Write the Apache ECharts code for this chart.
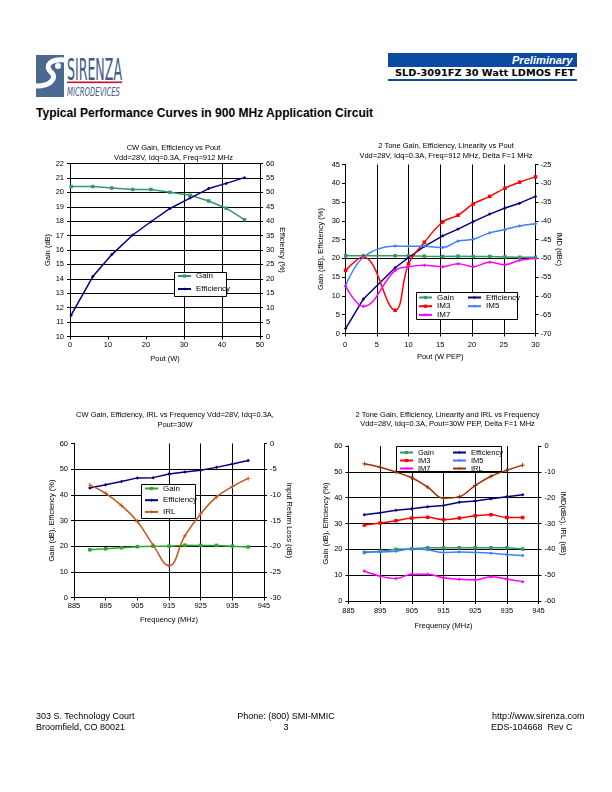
<!DOCTYPE html>
<html>
<head>
<meta charset="utf-8">
<script src="https://cdn.jsdelivr.net/npm/echarts@6/dist/echarts.min.js"></script>
<style>
  body { margin: 0; background: #fff; font-family: "Liberation Sans", Arial, sans-serif; }
  #page { position: relative; width: 612px; height: 792px; overflow: hidden; background: #fff; }
  .chart { position: absolute; left: 0; top: 0; width: 612px; height: 792px; }
  .t { position: absolute; white-space: nowrap; color: #000; line-height: 1; }
</style>
</head>
<body>
<div id="page">
  <svg style="position:absolute;left:0;top:0" width="612" height="110">
    <rect x="36" y="55" width="28" height="42" fill="#4a6890"/>
    <path d="M66 60 C50 58 44 66 51 72 C58 78 50 87 34 86" stroke="#fff" stroke-width="5" fill="none"/>
    <circle cx="58" cy="66" r="3" fill="#fff"/>
    <text x="67" y="80" font-family="'Liberation Sans Narrow','DejaVu Sans Condensed',sans-serif" font-size="31" textLength="55" lengthAdjust="spacingAndGlyphs" fill="#3f5b86">SIRENZA</text>
    <rect x="67" y="81.5" width="55" height="1.6" fill="#c8102e"/>
    <text x="67" y="96" font-family="'Liberation Sans Narrow','DejaVu Sans Condensed',sans-serif" font-style="italic" font-size="13" textLength="53" lengthAdjust="spacingAndGlyphs" fill="#3f5b86">MICRODEVICES</text>
    <rect x="388" y="53" width="189" height="14" fill="#0d4aa2"/>
    <rect x="388" y="79" width="189" height="2" fill="#0d4aa2"/>
  </svg>
  <div class="t fit" data-w="60" data-r="1" style="right:40px;top:55.5px;font-size:10px;font-weight:bold;font-style:italic;color:#fff">Preliminary</div>
  <div class="t fit" data-w="179" data-r="1" style="right:38px;top:69px;font-size:9px;font-weight:bold;font-family:'DejaVu Sans',sans-serif">SLD-3091FZ 30 Watt LDMOS FET</div>
  <div class="t fit" data-w="337" style="left:36px;top:106px;font-size:13px;font-weight:bold">Typical Performance Curves in 900 MHz Application Circuit</div>

  <div id="c1" class="chart"></div>
  <div id="c2" class="chart"></div>
  <div id="c3" class="chart"></div>
  <div id="c4" class="chart"></div>

  <div class="t" style="left:36px;top:712px;font-size:9px">303 S. Technology Court</div>
  <div class="t" style="left:36px;top:723px;font-size:9px">Broomfield, CO 80021</div>
  <div class="t" style="left:186px;width:200px;text-align:center;top:712px;font-size:9px">Phone: (800) SMI-MMIC</div>
  <div class="t" style="left:186px;width:200px;text-align:center;top:723px;font-size:9px">3</div>
  <div class="t" style="left:492px;top:712px;font-size:9px">http://www.sirenza.com</div>
  <div class="t" style="left:491px;top:723px;font-size:9px">EDS-104668&nbsp; Rev C</div>
</div>

<script>
// ---- CW gain / efficiency vs Pout (Freq 912 MHz)
const cwPout = [0.3, 6, 11, 16.5, 21.3, 26.3, 31.6, 36.5, 41.1, 45.9];
const cwGain = [20.4, 20.4, 20.3, 20.2, 20.2, 20.0, 19.8, 19.4, 18.9, 18.1];
const cwEff  = [7.4, 20.8, 28.4, 35.2, 39.8, 44.4, 48.0, 51.3, 53.1, 55.1];

// ---- 2 tone vs Pout (W PEP)
const ttPout = [0.1, 2.9, 7.9, 10, 12.5, 15.4, 17.8, 20.2, 22.8, 25.2, 27.5, 30];
const ttGain = [20.7, 20.7, 20.7, 20.7, 20.6, 20.5, 20.6, 20.5, 20.5, 20.4, 20.3, 20.3];
const ttEff  = [1.3, 9.2, 17.5, 20.2, 23.2, 26.0, 27.8, 29.8, 31.8, 33.4, 34.7, 36.5];
const ttIM3  = [-53.2, -49.6, -63.8, -51.5, -45.7, -40.3, -38.5, -35.5, -33.5, -31.3, -29.7, -28.3];
const ttIM5  = [-57.3, -49.7, -46.7, -46.8, -46.8, -47.1, -45.4, -44.9, -43.2, -42.3, -41.4, -40.8];
const ttIM7  = [-57.4, -62.8, -53.2, -52.2, -51.8, -52.2, -51.4, -52.2, -51.0, -51.7, -50.5, -50.0];

// ---- frequency sweeps (MHz)
const freqs   = [890, 895, 900, 905, 910, 915, 920, 925, 930, 935, 940];
const cwfGain = [18.6, 19.0, 19.4, 19.8, 20.0, 20.0, 20.4, 20.3, 20.3, 20.0, 19.7];
const cwfEff  = [42.7, 43.9, 45.2, 46.6, 46.7, 48.1, 48.9, 49.6, 50.7, 52.0, 53.4];
const cwfIRL  = [-8.1, -9.7, -12.1, -15.2, -19.8, -23.8, -18.0, -13.7, -10.4, -8.4, -6.8];

const ttfGain = [18.8, 19.3, 20.0, 20.2, 20.6, 20.6, 20.6, 20.6, 20.6, 20.6, 20.1];
const ttfEff  = [33.4, 34.2, 35.1, 35.7, 36.5, 37.0, 38.2, 38.7, 39.6, 40.4, 41.1];
const ttfIM3  = [-30.6, -29.8, -28.9, -27.9, -27.6, -28.5, -27.9, -27.0, -26.6, -27.7, -27.7];
const ttfIM5  = [-41.0, -41.0, -40.7, -39.9, -40.2, -41.2, -41.0, -41.2, -41.5, -42.0, -42.4];
const ttfIM7  = [-48.4, -50.4, -51.3, -49.6, -49.6, -51.0, -51.6, -51.8, -50.6, -51.5, -52.5];
const ttfIRL  = [-6.9, -8.2, -10.1, -12.3, -15.9, -20.2, -19.6, -15.3, -11.7, -9.4, -7.4];

const FREQ0 = 885;   // frequency axes start here, ticks every 10 MHz

const FONT = '"Liberation Sans", Arial, sans-serif';
const BLACK = '#000';
const NONE = 'rgba(0,0,0,0)';
const PLUS = 'path://M4,0H6V4H10V6H6V10H4V6H0V4H4Z';

const C = {
  gain: '#339966', gain3: '#33a433', eff: '#000080', im3: '#ff0000',
  im5: '#3d7fff', im7: '#ff00ff', irl3: '#c0561e', irl4: '#993300'
};

function axis(o) {
  const right = o.position === 'right';
  return {
    type: 'value', position: o.position, min: o.min, max: o.max, interval: o.interval,
    name: o.name, nameLocation: 'middle', nameGap: o.nameGap,
    nameRotate: o.vertical ? (right ? -90 : 90) : 0,
    nameTextStyle: { color: BLACK, fontSize: 7.5, fontFamily: FONT },
    axisLine: { show: true, onZero: false, lineStyle: { color: BLACK, width: 1 } },
    axisTick: { show: true, length: 3, lineStyle: { color: BLACK } },
    axisLabel: { color: BLACK, fontSize: 7.5, fontFamily: FONT, margin: o.margin, formatter: o.formatter },
    splitLine: o.split ? { show: true, lineStyle: { color: o.split, width: 1 } } : { show: false }
  };
}

function line(name, xs, ys, color, symbol, extra) {
  return Object.assign({
    name: name, type: 'line',
    data: xs.map((x, i) => [x, ys[i]]),
    symbol: symbol, symbolSize: 3.5, showSymbol: true,
    lineStyle: { color: color, width: 1.5 }, itemStyle: { color: color },
    emphasis: { disabled: true }, silent: true, z: 3
  }, extra || {});
}

function legend(names, left, top, lineH, gap, fs) {
  return {
    orient: 'vertical', left: left, top: top, data: names, padding: 0,
    itemWidth: 13, itemHeight: 4, itemGap: gap, selectedMode: false, z: 10,
    textStyle: { fontSize: fs, fontFamily: FONT, color: BLACK, lineHeight: lineH }
  };
}

function box(x, y, w, h) {
  return { type: 'rect', z: 8, shape: { x: x, y: y, width: w, height: h },
           style: { fill: '#fff', stroke: BLACK, lineWidth: 1 } };
}

function titleText(cx, y, text) {
  return { type: 'text', x: cx, y: y,
           style: { text: text, fill: BLACK, font: '7.5px ' + FONT, align: 'center', verticalAlign: 'middle' } };
}

const freqLabel = v => String(v + FREQ0);
const freqData = freqs.map(f => f - FREQ0);

// ===== 1. CW gain, efficiency vs Pout
const opt1 = {
  animation: false,
  graphic: [
    titleText(173.5, 147.5, 'CW Gain, Efficiency vs Pout'),
    titleText(173.5, 157.5, 'Vdd=28V, Idq=0.3A, Freq=912 MHz'),
    box(174.5, 272.5, 52, 24)
  ],
  grid: { left: 70, top: 163.5, width: 190, height: 173 },
  legend: legend(['Gain', 'Efficiency'], 177, 271.5, 9, 4, 8),
  xAxis: axis({ min: 0, max: 50, interval: 10, name: 'Pout (W)', nameGap: 18, margin: 4,
                split: [BLACK, NONE, NONE, BLACK, BLACK, BLACK] }),
  yAxis: [
    axis({ position: 'left', min: 10, max: 22, interval: 1, name: 'Gain (dB)', vertical: true, nameGap: 15, margin: 6, split: BLACK }),
    axis({ position: 'right', min: 0, max: 60, interval: 5, name: 'Efficiency (%)', vertical: true, nameGap: 17, margin: 6 })
  ],
  series: [
    line('Gain', cwPout, cwGain, C.gain, 'rect'),
    line('Efficiency', cwPout, cwEff, C.eff, 'diamond', { yAxisIndex: 1 })
  ]
};

// ===== 2. 2 tone gain, efficiency, linearity vs Pout
const opt2 = {
  animation: false,
  graphic: [
    titleText(446, 146, '2 Tone Gain, Efficiency, Linearity vs Pout'),
    titleText(446, 156, 'Vdd=28V, Idq=0.3A, Freq=912 MHz, Delta F=1 MHz'),
    box(416.5, 292.5, 101, 27)
  ],
  grid: { left: 345, top: 164.5, width: 190.5, height: 169 },
  legend: [
    legend(['Gain', 'IM3', 'IM7'], 418, 293.5, 8, 0.7, 8),
    legend(['Efficiency', 'IM5'], 467, 293.5, 8, 0.7, 8)
  ],
  xAxis: axis({ min: 0, max: 30, interval: 5, name: 'Pout (W PEP)', nameGap: 19, margin: 7, split: BLACK }),
  yAxis: [
    axis({ position: 'left', min: 0, max: 45, interval: 5, name: 'Gain (dB), Efficiency (%)', vertical: true, nameGap: 20, margin: 5,
           split: [NONE, NONE, NONE, NONE, BLACK, NONE, NONE, NONE, NONE, NONE] }),
    axis({ position: 'right', min: -70, max: -25, interval: 5, name: 'IMD (dBc)', vertical: true, nameGap: 18, margin: 5 })
  ],
  series: [
    line('Gain', ttPout, ttGain, C.gain, 'rect'),
    line('Efficiency', ttPout, ttEff, C.eff, 'diamond'),
    line('IM3', ttPout, ttIM3, C.im3, 'rect', { yAxisIndex: 1, smooth: 0.4 }),
    line('IM5', ttPout, ttIM5, C.im5, 'diamond', { yAxisIndex: 1, smooth: 0.4 }),
    line('IM7', ttPout, ttIM7, C.im7, 'diamond', { yAxisIndex: 1, smooth: 0.4 })
  ]
};

// ===== 3. CW gain, efficiency, IRL vs frequency
const opt3 = {
  animation: false,
  graphic: [
    titleText(175, 415, 'CW Gain, Efficiency, IRL vs Frequency Vdd=28V, Idq=0.3A,'),
    titleText(175, 424.5, 'Pout=30W'),
    box(141.5, 484.5, 54, 34)
  ],
  grid: { left: 74, top: 443.5, width: 190, height: 154 },
  legend: legend(['Gain', 'Efficiency', 'IRL'], 144, 484, 9, 2.7, 8),
  xAxis: axis({ min: 0, max: 60, interval: 10, name: 'Frequency (MHz)', nameGap: 18, margin: 4, formatter: freqLabel,
                split: [BLACK, NONE, NONE, BLACK, BLACK, BLACK, BLACK] }),
  yAxis: [
    axis({ position: 'left', min: 0, max: 60, interval: 10, name: 'Gain (dB), Efficiency (%)', vertical: true, nameGap: 18, margin: 6,
           split: [BLACK, BLACK, BLACK, BLACK, BLACK, BLACK, NONE] }),
    axis({ position: 'right', min: -30, max: 0, interval: 5, name: 'Input Return Loss (dB)', vertical: true, nameGap: 19, margin: 6 })
  ],
  series: [
    line('Gain', freqData, cwfGain, C.gain3, 'rect'),
    line('Efficiency', freqData, cwfEff, C.eff, 'diamond'),
    line('IRL', freqData, cwfIRL, C.irl3, PLUS, { yAxisIndex: 1, smooth: 0.45, symbolSize: 4.5 })
  ]
};

// ===== 4. 2 tone gain, efficiency, linearity and IRL vs frequency
const opt4 = {
  animation: false,
  graphic: [
    titleText(447.5, 414.5, '2 Tone Gain, Efficiency, Linearity and IRL vs Frequency'),
    titleText(447.5, 423.5, 'Vdd=28V, Idq=0.3A, Pout=30W PEP, Delta F=1 MHz'),
    box(396.5, 446.5, 105, 25)
  ],
  grid: { left: 348.5, top: 446, width: 190, height: 155 },
  legend: [
    legend(['Gain', 'IM3', 'IM7'], 399, 448.5, 7.5, 0, 7.5),
    legend(['Efficiency', 'IM5', 'IRL'], 452, 448.5, 7.5, 0, 7.5)
  ],
  xAxis: axis({ min: 0, max: 60, interval: 10, name: 'Frequency (MHz)', nameGap: 21, margin: 6, formatter: freqLabel, split: BLACK }),
  yAxis: [
    axis({ position: 'left', min: 0, max: 60, interval: 10, name: 'Gain (dB), Efficiency (%)', vertical: true, nameGap: 18, margin: 6,
           split: [BLACK, BLACK, BLACK, BLACK, BLACK, BLACK, NONE] }),
    axis({ position: 'right', min: -60, max: 0, interval: 10, name: 'IMD(dBc), IRL (dB)', vertical: true, nameGap: 18, margin: 6 })
  ],
  series: [
    line('Gain', freqData, ttfGain, C.gain, 'rect'),
    line('Efficiency', freqData, ttfEff, C.eff, 'diamond'),
    line('IM3', freqData, ttfIM3, C.im3, 'rect', { yAxisIndex: 1, smooth: 0.4 }),
    line('IM5', freqData, ttfIM5, C.im5, 'diamond', { yAxisIndex: 1, smooth: 0.4 }),
    line('IM7', freqData, ttfIM7, C.im7, 'diamond', { yAxisIndex: 1, smooth: 0.4 }),
    line('IRL', freqData, ttfIRL, C.irl4, PLUS, { yAxisIndex: 1, smooth: 0.4, symbolSize: 4.5 })
  ]
};

[['c1', opt1], ['c2', opt2], ['c3', opt3], ['c4', opt4]].forEach(([id, opt]) => {
  echarts.init(document.getElementById(id), null, { renderer: 'canvas' }).setOption(opt);
});

// squeeze header texts to the widths they take on the page
document.querySelectorAll('.fit').forEach(el => {
  const w = +el.dataset.w;
  el.style.transformOrigin = el.dataset.r ? 'right top' : 'left top';
  el.style.transform = 'scaleX(' + (w / el.offsetWidth) + ')';
});
</script>
</body>
</html>
